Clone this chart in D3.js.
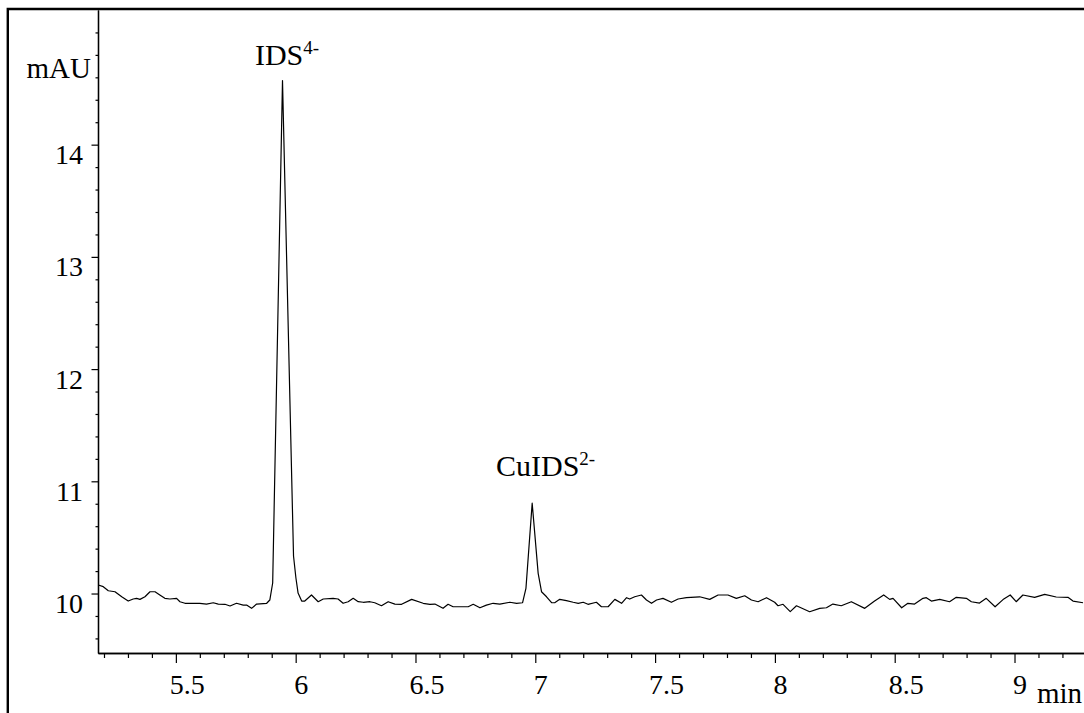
<!DOCTYPE html>
<html>
<head>
<meta charset="utf-8">
<script src="https://cdn.jsdelivr.net/npm/d3@7"></script>
<style>
  body { margin: 0; background: #fff; }
  svg { display: block; }
  text { font-family: "Liberation Serif", "Times New Roman", serif; fill: #000; }
</style>
</head>
<body>
<div id="chart"></div>
<script>
// electropherogram trace
let timeMin = [5.176, 5.197, 5.218, 5.246, 5.274, 5.301, 5.322, 5.336, 5.350, 5.371,
  5.392, 5.413, 5.433, 5.454, 5.475, 5.503, 5.517, 5.538, 5.600, 5.628,
  5.656, 5.677, 5.705, 5.726, 5.753, 5.781, 5.795, 5.816, 5.837, 5.879,
  5.892, 5.904, 5.945, 5.991, 6.001, 6.010, 6.025, 6.038, 6.066, 6.094,
  6.115, 6.156, 6.177, 6.198, 6.219, 6.240, 6.261, 6.282, 6.310, 6.330,
  6.358, 6.386, 6.414, 6.442, 6.484, 6.532, 6.560, 6.581, 6.595, 6.615,
  6.636, 6.657, 6.720, 6.741, 6.769, 6.796, 6.824, 6.852, 6.894, 6.922,
  6.947, 6.961, 6.987, 7.012, 7.026, 7.047, 7.068, 7.081, 7.102, 7.130,
  7.158, 7.179, 7.200, 7.220, 7.255, 7.276, 7.304, 7.332, 7.360, 7.381,
  7.394, 7.415, 7.443, 7.464, 7.485, 7.506, 7.533, 7.568, 7.596, 7.631,
  7.686, 7.728, 7.763, 7.804, 7.839, 7.874, 7.902, 7.930, 7.965, 7.999,
  8.013, 8.034, 8.064, 8.090, 8.145, 8.187, 8.215, 8.242, 8.277, 8.319,
  8.375, 8.416, 8.454, 8.479, 8.493, 8.529, 8.555, 8.583, 8.618, 8.632,
  8.653, 8.688, 8.729, 8.757, 8.799, 8.820, 8.854, 8.882, 8.919, 8.952,
  8.982, 9.007, 9.035, 9.084, 9.126, 9.174, 9.223, 9.244, 9.286];

let absorbance = [10.076, 10.061, 10.025, 10.016, 9.971, 9.933, 9.951, 9.957, 9.948, 9.971,
  10.016, 10.016, 9.987, 9.957, 9.951, 9.957, 9.927, 9.913, 9.913, 9.906,
  9.918, 9.906, 9.904, 9.889, 9.913, 9.897, 9.897, 9.868, 9.906, 9.913,
  9.942, 10.094, 14.571, 10.334, 10.138, 10.004, 9.933, 9.933, 9.987, 9.927,
  9.951, 9.957, 9.951, 9.913, 9.927, 9.957, 9.927, 9.922, 9.927, 9.918,
  9.891, 9.927, 9.906, 9.904, 9.948, 9.913, 9.904, 9.906, 9.891, 9.868,
  9.904, 9.882, 9.882, 9.904, 9.873, 9.897, 9.913, 9.906, 9.922, 9.913,
  9.918, 10.046, 10.805, 10.180, 10.016, 9.971, 9.918, 9.918, 9.948, 9.936,
  9.922, 9.913, 9.922, 9.904, 9.922, 9.882, 9.882, 9.948, 9.913, 9.963,
  9.951, 9.971, 9.987, 9.942, 9.913, 9.942, 9.957, 9.922, 9.951, 9.963,
  9.971, 9.948, 9.987, 9.987, 9.957, 9.980, 9.942, 9.927, 9.963, 9.922,
  9.891, 9.904, 9.839, 9.891, 9.838, 9.868, 9.873, 9.906, 9.891, 9.927,
  9.868, 9.933, 9.987, 9.948, 9.957, 9.873, 9.913, 9.906, 9.957, 9.963,
  9.933, 9.948, 9.927, 9.966, 9.957, 9.927, 9.915, 9.957, 9.882, 9.946,
  9.987, 9.927, 9.987, 9.966, 9.993, 9.969, 9.966, 9.933, 9.918];

let xMajorTicks = [5.5, 6, 6.5, 7, 7.5, 8, 8.5, 9];
let yMajorTicks = [10, 11, 12, 13, 14];

// peak labels: name, superscript charge, where the text starts
let peakNames = ["IDS", "CuIDS"];
let peakCharges = ["4-", "2-"];
let peakLabelTimes = [5.830, 6.836];
let peakLabelLevels = [14.71, 11.044];

let svgWidth = 1084;
let svgHeight = 713;

let margin = {
  top: 10,
  right: 0,
  bottom: 60,
  left: 98
};

let width = svgWidth - margin.left - margin.right;
let height = svgHeight - margin.top - margin.bottom;

let svg = d3
  .select("#chart")
  .append("svg")
  .attr("width", svgWidth)
  .attr("height", svgHeight);

// frame round the whole figure (only top and left are visible)
svg.append("path")
  .attr("d", `M7.8,${svgHeight} V9 H${svgWidth}`)
  .attr("fill", "none")
  .attr("stroke", "#000")
  .attr("stroke-width", 2.4);

let chartGroup = svg.append("g")
  .attr("transform", `translate(${margin.left}, ${margin.top})`);

let xScale = d3.scaleLinear()
  .domain([5.175, 9.29])
  .range([0, width]);

let yScale = d3.scaleLinear()
  .domain([9.47, 15.2])
  .range([height, 0]);

// minor ticks first, then the labelled ones
let xMinor = d3.range(52, 93).map(d => d / 10).filter(d => !xMajorTicks.includes(d));
let yMinor = d3.range(48, 76).map(d => d / 5).filter(d => !yMajorTicks.includes(d));

chartGroup.append("g")
  .attr("transform", `translate(0, ${height})`)
  .call(d3.axisBottom(xScale).tickValues(xMinor).tickSize(5).tickSizeOuter(0).tickFormat(""));

let xAxis = chartGroup.append("g")
  .attr("transform", `translate(0, ${height})`)
  .call(d3.axisBottom(xScale).tickValues(xMajorTicks).tickSize(10).tickPadding(11).tickSizeOuter(0).tickFormat(d3.format("")));

chartGroup.append("g")
  .call(d3.axisLeft(yScale).tickValues(yMinor).tickSize(2.5).tickSizeOuter(0).tickFormat(""));

let yAxis = chartGroup.append("g")
  .call(d3.axisLeft(yScale).tickValues(yMajorTicks).tickSize(6.5).tickPadding(8.5).tickSizeOuter(0).tickFormat(d3.format("d")));

chartGroup.selectAll(".domain").attr("stroke-width", 1.3);
chartGroup.selectAll(".tick line").attr("stroke-width", 1.2);

// the labels sit a little right of their ticks in the original
xAxis.selectAll("text")
  .style("font-family", "'Liberation Serif', 'Times New Roman', serif")
  .style("font-size", "28px")
  .attr("dx", d => (String(d).length > 1 ? 11 : 5) + "px");

yAxis.selectAll("text")
  .style("font-family", "'Liberation Serif', 'Times New Roman', serif")
  .style("font-size", "28px")
  .attr("dy", "19px");

// axis units
chartGroup.append("text")
  .attr("x", -7)
  .attr("y", 68)
  .attr("text-anchor", "end")
  .style("font-size", "29px")
  .text("mAU");

chartGroup.append("text")
  .attr("x", width - 47)
  .attr("y", height + 50)
  .style("font-size", "29px")
  .text("min");

// the trace
let traceData = timeMin.map((t, i) => ({ t: t, v: absorbance[i] }));

let line = d3.line()
  .x(d => xScale(d.t))
  .y(d => yScale(d.v));

chartGroup.append("path")
  .datum(traceData)
  .attr("d", line)
  .attr("fill", "none")
  .attr("stroke", "#000")
  .attr("stroke-width", 1.2)
  .attr("stroke-linejoin", "round");

// peak names with charge as superscript
peakNames.forEach(function(name, i) {
  let label = chartGroup.append("text")
    .attr("x", xScale(peakLabelTimes[i]))
    .attr("y", yScale(peakLabelLevels[i]))
    .style("font-size", "30px");
  label.append("tspan").text(name);
  label.append("tspan")
    .attr("dy", "-11px")
    .style("font-size", "19px")
    .text(peakCharges[i]);
});
</script>
</body>
</html>
